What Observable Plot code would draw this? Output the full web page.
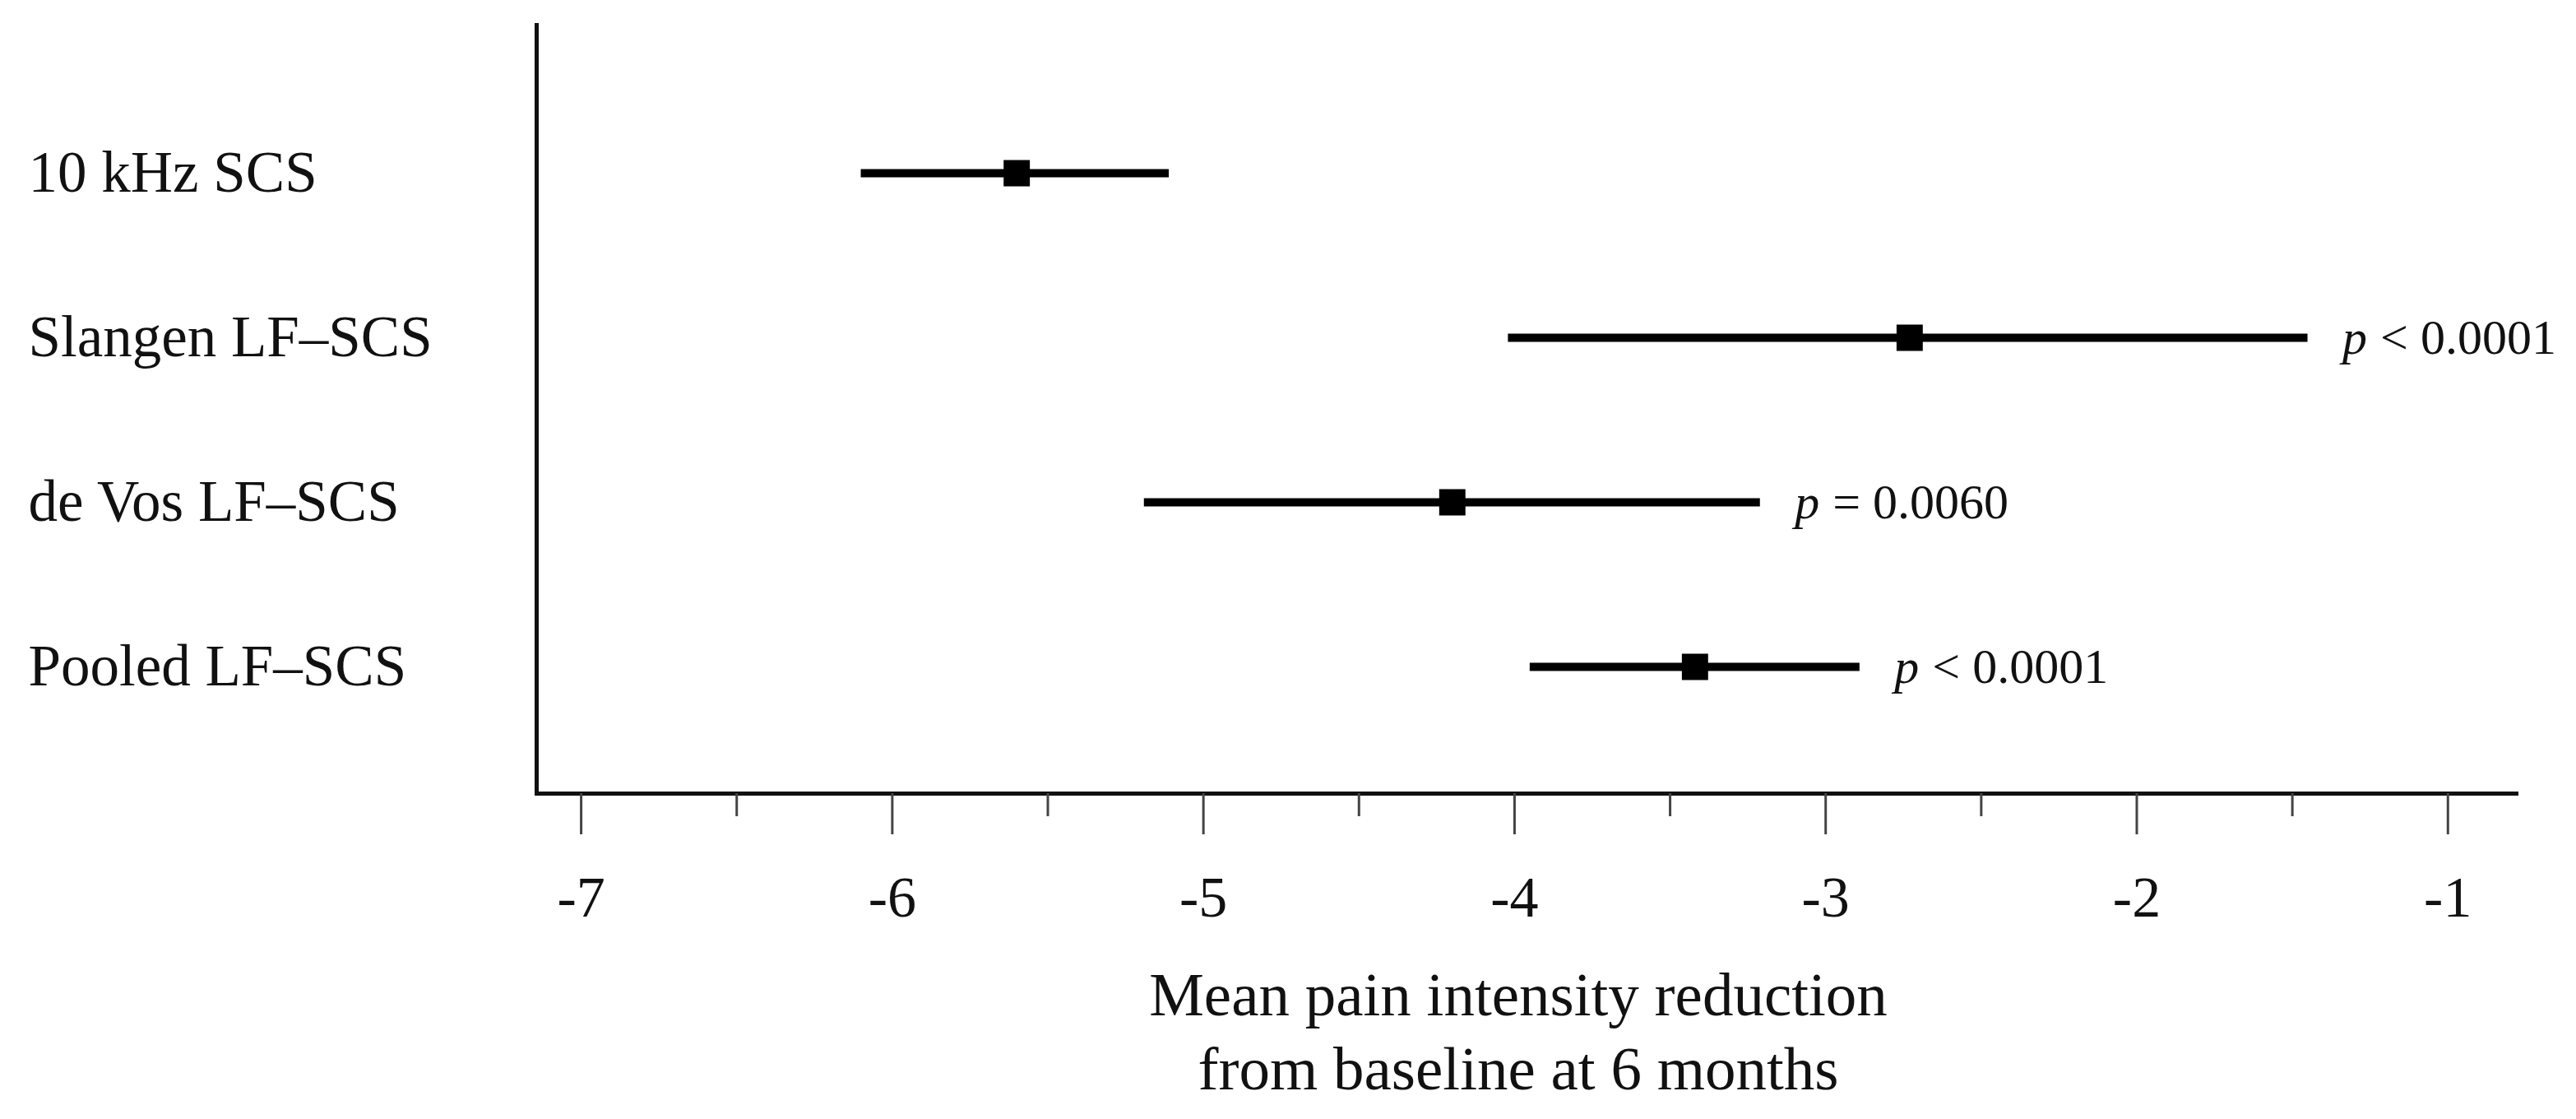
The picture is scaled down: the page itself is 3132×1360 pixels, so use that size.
<!DOCTYPE html>
<html>
<head>
<meta charset="utf-8">
<script src="https://cdn.jsdelivr.net/npm/d3@7"></script>
<script src="https://cdn.jsdelivr.net/npm/@observablehq/plot@0.6"></script>
<style>
  html, body { margin: 0; padding: 0; background: #fff; }
  #chart svg { display: block; }
</style>
</head>
<body>
<div id="chart"></div>
<script>
// ---- data ----
const categories = ["10 kHz SCS", "Slangen LF–SCS", "de Vos LF–SCS", "Pooled LF–SCS"];
const means  = [-5.60, -2.73, -4.20, -3.42];
const lower  = [-6.10, -4.02, -5.19, -3.95];
const upper  = [-5.11, -1.45, -3.21, -2.89];
const pSigns = [null, "<", "=", "<"];
const pValues = [null, "0.0001", "0.0060", "0.0001"];
const majorTicks = [-7, -6, -5, -4, -3, -2, -1];
const minorTicks = [-6.5, -5.5, -4.5, -3.5, -2.5, -1.5];
const xDomain = [-7.143, -0.78];
const xTitle = "Mean pain intensity reduction\nfrom baseline at 6 months";

const rows = categories.map((c, i) => ({
  name: c, mean: means[i], lo: lower[i], hi: upper[i],
  sign: pSigns[i], pv: pValues[i]
}));
const pRows = rows.filter(d => d.pv);

const chart = Plot.plot({
  width: 3132,
  height: 1360,
  marginLeft: 652,
  marginRight: 73,
  marginTop: 30,
  marginBottom: 396,
  style: { fontFamily: "'Liberation Serif', serif", fontSize: "68px", color: "#111", background: "#fff" },
  x: { domain: xDomain, axis: null },
  y: { type: "point", domain: categories, padding: 0.835, align: 0.539, axis: null },
  marks: [
    // axis lines
    Plot.frame({ anchor: "left", stroke: "#111", strokeWidth: 5 }),
    Plot.frame({ anchor: "bottom", stroke: "#111", strokeWidth: 5 }),
    // ticks
    Plot.axisX({ ticks: majorTicks, tickSize: 50, tickPadding: 50, tickFormat: d => String(d),
                 stroke: "#444", strokeWidth: 3, fill: "#111", fontSize: 70, label: null }),
    Plot.axisX({ ticks: minorTicks, tickSize: 28, tickFormat: () => "",
                 stroke: "#444", strokeWidth: 3, label: null }),
    // axis title
    Plot.text([xTitle], { frameAnchor: "bottom", lineAnchor: "top", dy: 206, dx: -10,
                          fontSize: 75, lineHeight: 1.2, fill: "#111" }),
    // category labels
    Plot.text(rows, { y: "name", text: "name", frameAnchor: "left", textAnchor: "start",
                      dx: -618, fontSize: 71, fill: "#111" }),
    // confidence intervals
    Plot.ruleY(rows, { y: "name", x1: "lo", x2: "hi", stroke: "#000", strokeWidth: 10 }),
    // means
    Plot.dot(rows, { y: "name", x: "mean", symbol: "square", r: 18, fill: "#000", stroke: null }),
    // p-value labels
    Plot.text(pRows, { y: "name", x: "hi", text: () => "p", textAnchor: "start", dx: 42,
                       fontStyle: "italic", fontSize: 60, fill: "#111" }),
    Plot.text(pRows, { y: "name", x: "hi", text: d => d.sign + " " + d.pv, textAnchor: "start", dx: 88,
                       fontSize: 60, fill: "#111" })
  ]
});
document.getElementById("chart").append(chart);
</script>
</body>
</html>
